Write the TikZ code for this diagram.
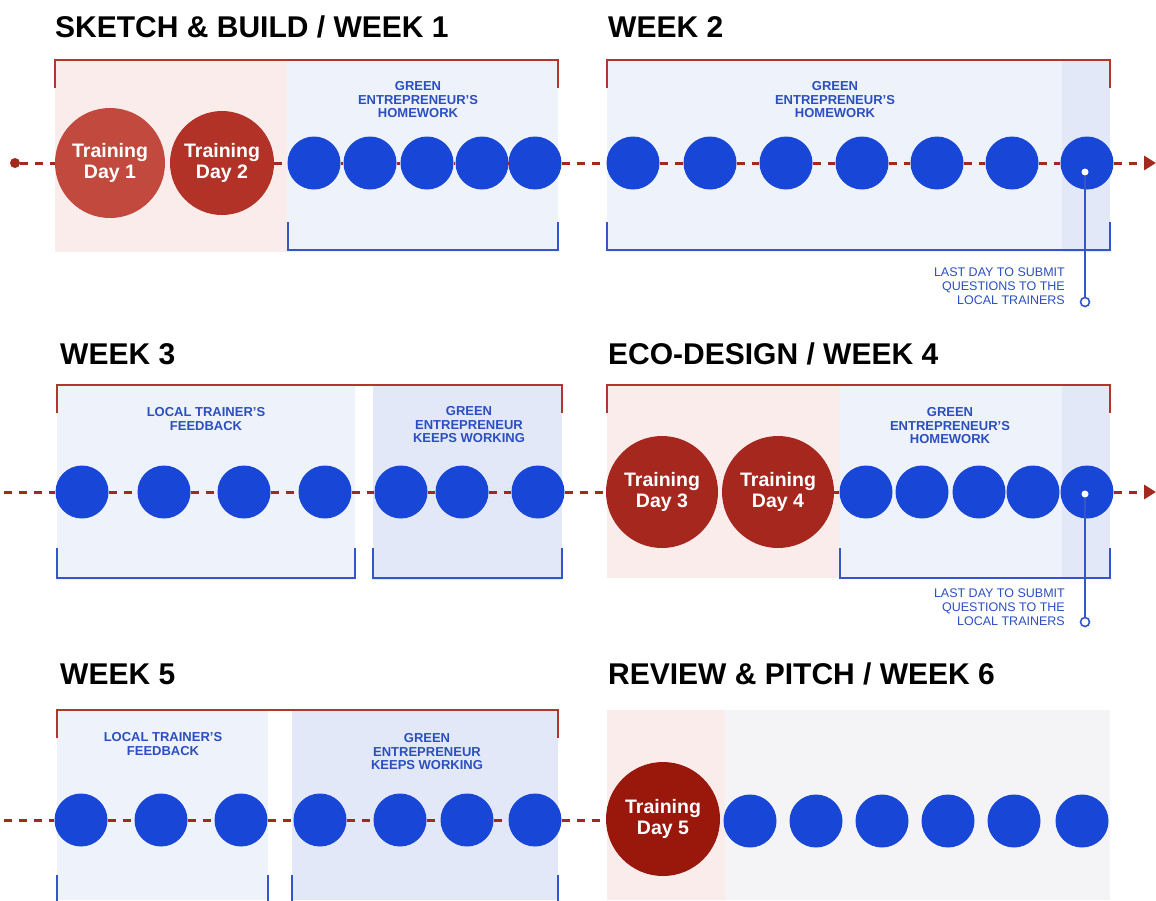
\documentclass[tikz,border=0pt]{standalone}
\usepackage{fontspec}
\setmainfont{Liberation Sans}
\usetikzlibrary{arrows.meta}
\definecolor{tl}{HTML}{A3281E}
\definecolor{brred}{HTML}{B0362E}
\definecolor{brblue}{HTML}{3556C8}
\definecolor{dotblue}{HTML}{1846D6}
\definecolor{lblblue}{HTML}{2C4FC0}
\definecolor{pinkbg}{HTML}{FAECEA}
\definecolor{bluebg}{HTML}{EEF2FB}
\definecolor{bluebgb}{HTML}{E2E8F8}
\definecolor{graybg}{HTML}{F4F4F6}
\definecolor{redA}{HTML}{C2493D}
\definecolor{redB}{HTML}{B23228}
\definecolor{redC}{HTML}{A6271D}
\definecolor{redD}{HTML}{9A170B}
\begin{document}
\begin{tikzpicture}[x=1pt,y=-1pt,
  title/.style={anchor=base west, font=\fontsize{30}{30}\selectfont\bfseries, text=black, inner sep=0},
  lbl/.style={font=\fontsize{13}{13.5}\selectfont\bfseries, text=lblblue, align=center, inner sep=0},
  note/.style={font=\fontsize{12.5}{14}\selectfont, text=lblblue, align=right, inner sep=0, anchor=north east},
  train/.style={circle, inner sep=0, minimum size=110, text=white, align=center, font=\fontsize{19.5}{21.5}\selectfont\bfseries},
  bc/.style={circle, fill=dotblue, minimum size=53, inner sep=0},
  tline/.style={draw=tl, line width=3, dash pattern=on 8pt off 7pt},
  tarrow/.style={-{Triangle[length=12pt,width=14pt]}},
  redbr/.style={draw=brred, line width=2.5},
  bluebr/.style={draw=brblue, line width=2},
  wdot/.style={circle, fill=white, minimum size=7, inner sep=0},
  odot/.style={circle, draw=brblue, fill=white, line width=1.6, minimum size=9, inner sep=0},
  qline/.style={draw=brblue, line width=1.8}
]
\useasboundingbox (0,0) rectangle (1156,900);
\fill[white] (0,0) rectangle (1156,900);

% ---------- backgrounds ----------
\fill[pinkbg] (55,60) rectangle (287,252);
\fill[bluebg] (287,60) rectangle (558,252);
\fill[bluebg] (607,60) rectangle (1110,252);
\fill[bluebgb] (1062,60) rectangle (1110,252);

\fill[bluebg] (57,385) rectangle (355,580);
\fill[bluebgb] (373,385) rectangle (562,580);
\fill[pinkbg] (607,385) rectangle (840,578);
\fill[bluebg] (840,385) rectangle (1110,578);
\fill[bluebgb] (1062,385) rectangle (1110,578);

\fill[bluebg] (57,710) rectangle (268,900);
\fill[bluebgb] (292,710) rectangle (558,900);
\fill[pinkbg] (607,710) rectangle (725,900);
\fill[graybg] (725,710) rectangle (1110,900);

% ---------- brackets ----------
\draw[redbr] (55,88) -- (55,60) -- (558,60) -- (558,88);
\draw[bluebr] (288,222) -- (288,250) -- (558,250) -- (558,222);
\draw[redbr] (607,88) -- (607,60) -- (1110,60) -- (1110,88);
\draw[bluebr] (607,222) -- (607,250) -- (1110,250) -- (1110,222);

\draw[redbr] (57,413) -- (57,385) -- (562,385) -- (562,413);
\draw[bluebr] (57,548) -- (57,578) -- (355,578) -- (355,548);
\draw[bluebr] (373,548) -- (373,578) -- (562,578) -- (562,548);
\draw[redbr] (607,413) -- (607,385) -- (1110,385) -- (1110,413);
\draw[bluebr] (840,548) -- (840,578) -- (1110,578) -- (1110,548);

\draw[redbr] (57,738) -- (57,710) -- (558,710) -- (558,738);
\draw[bluebr] (57,875) -- (57,906) -- (268,906) -- (268,875);
\draw[bluebr] (292,875) -- (292,906) -- (558,906) -- (558,875);

% ---------- titles ----------
\node[title] (t1) at (55,37) {SKETCH \& BUILD / WEEK 1};
\node[title] (t2) at (608,37) {WEEK 2};
\node[title] (t3) at (60,364) {WEEK 3};
\node[title] (t4) at (608,364) {ECO-DESIGN / WEEK 4};
\node[title] (t5) at (60,684) {WEEK 5};
\node[title] (t6) at (608,684) {REVIEW \& PITCH / WEEK 6};

% ---------- labels ----------
\node[lbl] (l1) at (418,100) {GREEN\\ENTREPRENEUR'S\\HOMEWORK};
\node[lbl] (l2) at (835,100) {GREEN\\ENTREPRENEUR'S\\HOMEWORK};
\node[lbl] (l3) at (206,419) {LOCAL TRAINER'S\\FEEDBACK};
\node[lbl] (l4) at (469,425) {GREEN\\ENTREPRENEUR\\KEEPS WORKING};
\node[lbl] (l5) at (950,426) {GREEN\\ENTREPRENEUR'S\\HOMEWORK};
\node[lbl] (l6) at (163,744) {LOCAL TRAINER'S\\FEEDBACK};
\node[lbl] (l7) at (427,752) {GREEN\\ENTREPRENEUR\\KEEPS WORKING};

% ---------- row 1 ----------
\node[circle, fill=tl, minimum size=10, inner sep=0] (s1) at (15,163) {};
\node[train, fill=redA] (d1) at (110,163) {Training\\Day 1};
\node[train, fill=redB, minimum size=104] (d2) at (222,163) {Training\\Day 2};
\node[bc] (a1) at (314,163) {};
\node[bc] (a2) at (370,163) {};
\node[bc] (a3) at (427,163) {};
\node[bc] (a4) at (482,163) {};
\node[bc] (a5) at (535,163) {};
\node[bc] (b1) at (633,163) {};
\node[bc] (b2) at (710,163) {};
\node[bc] (b3) at (786,163) {};
\node[bc] (b4) at (862,163) {};
\node[bc] (b5) at (937,163) {};
\node[bc] (b6) at (1012,163) {};
\node[bc] (b7) at (1087,163) {};
\coordinate (e1) at (1156,163);

\draw[tline] (s1) -- (d1);
\draw[tline] (d2) -- (a1);
\draw[tline] (a1) -- (a2);
\draw[tline] (a2) -- (a3);
\draw[tline] (a3) -- (a4);
\draw[tline] (a4) -- (a5);
\draw[tline] (a5) -- (b1);
\draw[tline] (b1) -- (b2);
\draw[tline] (b2) -- (b3);
\draw[tline] (b3) -- (b4);
\draw[tline] (b4) -- (b5);
\draw[tline] (b5) -- (b6);
\draw[tline] (b6) -- (b7);
\draw[tline, tarrow] (b7) -- (e1);

\node[wdot] (w1) at (1085,172) {};
\node[odot] (o1) at (1085,302) {};
\draw[qline] (w1) -- (o1);
\node[note] (n1) at (1065,268) {LAST DAY TO SUBMIT\\QUESTIONS TO THE\\LOCAL TRAINERS};

% ---------- row 2 ----------
\coordinate (s2) at (4,492);
\node[bc] (c1) at (82,492) {};
\node[bc] (c2) at (164,492) {};
\node[bc] (c3) at (244,492) {};
\node[bc] (c4) at (325,492) {};
\node[bc] (c5) at (401,492) {};
\node[bc] (c6) at (462,492) {};
\node[bc] (c7) at (538,492) {};
\node[train, fill=redC, minimum size=112] (d3) at (662,492) {Training\\Day 3};
\node[train, fill=redC, minimum size=112] (d4) at (778,492) {Training\\Day 4};
\node[bc] (f1) at (866,492) {};
\node[bc] (f2) at (922,492) {};
\node[bc] (f3) at (979,492) {};
\node[bc] (f4) at (1033,492) {};
\node[bc] (f5) at (1087,492) {};
\coordinate (e2) at (1156,492);

\draw[tline] (s2) -- (c1);
\draw[tline] (c1) -- (c2);
\draw[tline] (c2) -- (c3);
\draw[tline] (c3) -- (c4);
\draw[tline] (c4) -- (c5);
\draw[tline] (c5) -- (c6);
\draw[tline] (c6) -- (c7);
\draw[tline] (c7) -- (d3);
\draw[tline] (d4) -- (f1);
\draw[tline, tarrow] (f5) -- (e2);

\node[wdot] (w2) at (1085,494) {};
\node[odot] (o2) at (1085,622) {};
\draw[qline] (w2) -- (o2);
\node[note] (n2) at (1065,589) {LAST DAY TO SUBMIT\\QUESTIONS TO THE\\LOCAL TRAINERS};

% ---------- row 3 ----------
\coordinate (s3) at (4,820);
\node[bc] (g1) at (81,820) {};
\node[bc] (g2) at (161,820) {};
\node[bc] (g3) at (241,820) {};
\node[bc] (g4) at (320,820) {};
\node[bc] (g5) at (400,820) {};
\node[bc] (g6) at (467,820) {};
\node[bc] (g7) at (535,820) {};
\node[train, fill=redD, minimum size=114] (d5) at (663,819) {Training\\Day 5};
\node[bc] (h1) at (750,821) {};
\node[bc] (h2) at (816,821) {};
\node[bc] (h3) at (882,821) {};
\node[bc] (h4) at (948,821) {};
\node[bc] (h5) at (1014,821) {};
\node[bc] (h6) at (1082,821) {};

\draw[tline] (s3) -- (g1);
\draw[tline] (g1) -- (g2);
\draw[tline] (g2) -- (g3);
\draw[tline] (g3) -- (g4);
\draw[tline] (g4) -- (g5);
\draw[tline] (g5) -- (g6);
\draw[tline] (g6) -- (g7);
\draw[tline] (g7) -- (d5.west |- g7);
\end{tikzpicture}
\end{document}
